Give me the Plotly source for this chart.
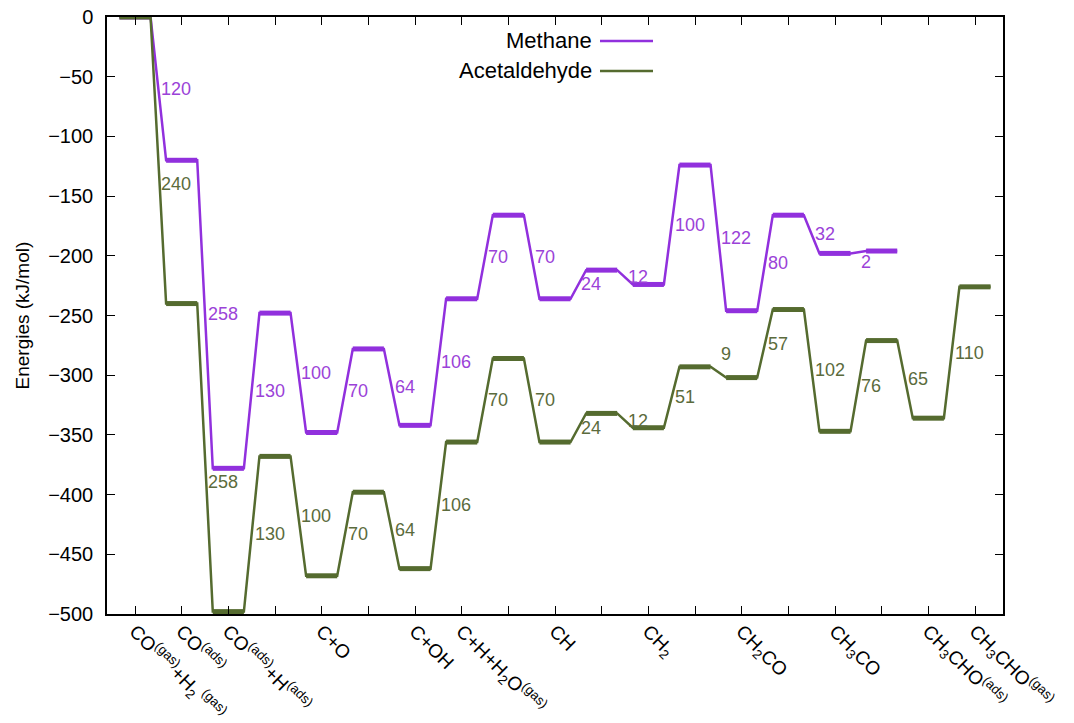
import plotly.graph_objects as go

# ---------------- data ----------------
methane_levels = [0, -120, -378, -248, -348, -278, -342, -236, -166, -236,
                  -212, -224, -124, -246, -166, -198, -196]
acet_levels = [0, -240, -498, -368, -468, -398, -462, -356, -286, -356,
               -332, -344, -293, -302, -245, -347, -271, -336, -226]
methane_barriers = ["120", "258", "130", "100", "70", "64", "106", "70", "70",
                    "24", "12", "100", "122", "80", "32", "2"]
acet_barriers = ["240", "258", "130", "100", "70", "64", "106", "70", "70",
                 "24", "12", "51", "9", "57", "102", "76", "65", "110"]
tick_positions = list(range(1, 20))
tick_labels = ["CO<sup>(gas)</sup>+H<sub>2</sub><sup> (gas)</sup>",
               "CO<sup>(ads)</sup>",
               "CO<sup>(ads)</sup>+H<sup>(ads)</sup>",
               "",
               "C+O",
               "",
               "C+OH",
               "C+H+H<sub>2</sub>O<sup>(gas)</sup>",
               "",
               "CH",
               "",
               "CH<sub>2</sub>",
               "",
               "CH<sub>2</sub>CO",
               "",
               "CH<sub>3</sub>CO",
               "",
               "CH<sub>3</sub>CHO<sup>(ads)</sup>",
               "CH<sub>3</sub>CHO<sup>(gas)</sup>"]
series_names = ["Methane", "Acetaldehyde"]
series_colors = ["#9130dd", "#556b2f"]
label_colors = ["#9b42d8", "#5b6b3c"]

HALF = 1 / 3.0
FONT = "Liberation Sans, Arial, Helvetica, sans-serif"

fig = go.Figure()
annotations = []

# manual vertical nudges for a few labels (pixels)
nudges = {("Acetaldehyde", 0): -24, ("Acetaldehyde", 1): -24,
          ("Acetaldehyde", 12): 18, ("Methane", 15): -10}

for name, levels, barriers, col, lcol in zip(
        series_names, [methane_levels, acet_levels],
        [methane_barriers, acet_barriers], series_colors, label_colors):
    xs, ys = [], []
    hx, hy = [], []
    for i, e in enumerate(levels):
        x = tick_positions[i]
        xs += [x - HALF, x + HALF]
        ys += [e, e]
        hx += [x - HALF, x + HALF, None]
        hy += [e, e, None]
    fig.add_trace(go.Scatter(x=xs, y=ys, mode="lines", name=name,
                             line=dict(color=col, width=2.5),
                             showlegend=False, hoverinfo="skip"))
    fig.add_trace(go.Scatter(x=hx, y=hy, mode="lines", name=name,
                             line=dict(color=col, width=5),
                             showlegend=False))
    for i, txt in enumerate(barriers):
        xm = (tick_positions[i] + tick_positions[i + 1]) / 2.0
        ym = (levels[i] + levels[i + 1]) / 2.0
        annotations.append(dict(
            x=xm, y=ym, xref="x", yref="y", text=txt, showarrow=False,
            xanchor="left", yanchor="middle", xshift=1,
            yshift=nudges.get((name, i), 0),
            font=dict(family=FONT, size=18, color=lcol)))

# custom gnuplot-style key (text left, sample right)
W, H = 1074, 723
L, R, T, B = 107, 71, 17, 109
pw, ph = W - L - R, H - T - B


def px(xp):
    return (xp - L) / pw


def py(yp):
    return 1 - (yp - T) / ph


for k, (name, col) in enumerate(zip(series_names, series_colors)):
    yk = 41 + 30 * k
    annotations.append(dict(
        x=px(594), y=py(yk), xref="paper", yref="paper", text=name,
        showarrow=False, xanchor="right", yanchor="middle",
        font=dict(family=FONT, size=22, color="black")))
    fig.add_shape(type="line", xref="paper", yref="paper",
                  x0=px(600), x1=px(653), y0=py(yk), y1=py(yk),
                  line=dict(color=col, width=2.5))

# y axis title
annotations.append(dict(
    x=px(22), y=0.5, xref="paper", yref="paper", text="Energies (kJ/mol)",
    textangle=-90, showarrow=False, xanchor="center", yanchor="middle",
    font=dict(family=FONT, size=19, color="black")))

fig.update_layout(
    width=W, height=H,
    margin=dict(l=L, r=R, t=T, b=B, autoexpand=False),
    paper_bgcolor="white", plot_bgcolor="white",
    showlegend=False,
    annotations=annotations,
    font=dict(family=FONT, color="black"),
)
fig.update_xaxes(
    range=[0.4, 19.6], tickmode="array", tickvals=tick_positions,
    ticktext=tick_labels, tickangle=45, ticks="inside", ticklen=8,
    tickcolor="black", tickwidth=1.2,
    showline=True, linecolor="black", linewidth=1.5, mirror="ticks",
    showgrid=False, zeroline=False, automargin=False,
    ticklabelstandoff=-3,
    tickfont=dict(family=FONT, size=19, color="black"),
)
fig.update_yaxes(
    range=[-500, 0], tickmode="linear", tick0=0, dtick=50,
    ticks="inside", ticklen=8, tickcolor="black", tickwidth=1.2,
    showline=True, linecolor="black", linewidth=1.5, mirror="ticks",
    showgrid=False, zeroline=False, automargin=False,
    ticklabelstandoff=8,
    tickfont=dict(family=FONT, size=20, color="black"),
)

fig.write_html("out.html")
